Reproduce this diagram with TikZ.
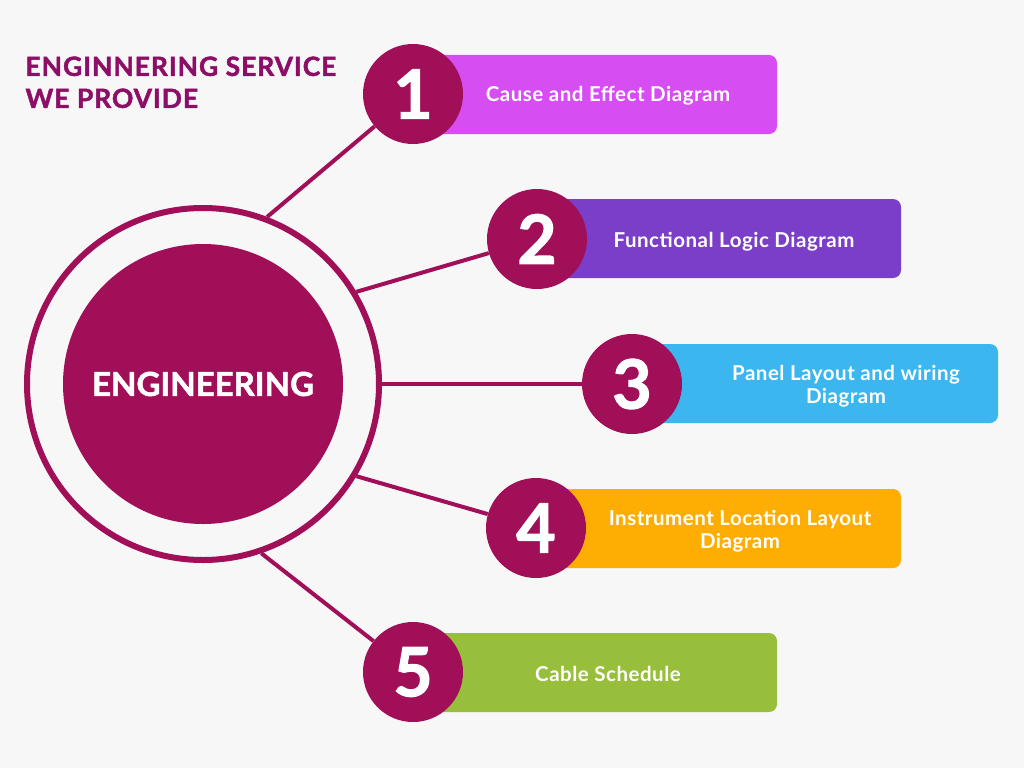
\documentclass[tikz,border=0pt]{standalone}
\usepackage{fontspec}
\setmainfont{Lato}
\newfontfamily\heavy[BoldFeatures={FakeBold=1.6}]{Lato}
\newfontfamily\heavyw[BoldFeatures={FakeBold=1.6,LetterSpace=3.5}]{Lato}
\newfontfamily\wide[BoldFeatures={LetterSpace=2.5}]{Lato}
\definecolor{bgc}{HTML}{F7F7F8}
\definecolor{crim}{HTML}{A10F58}
\definecolor{titlec}{HTML}{8C0E66}
\definecolor{cA}{HTML}{D64EF2}
\definecolor{cB}{HTML}{7A3EC8}
\definecolor{cC}{HTML}{3BB6EF}
\definecolor{cD}{HTML}{FEAE03}
\definecolor{cE}{HTML}{98BF3B}
\begin{document}
\begin{tikzpicture}[x=1pt,y=-1pt,
  numc/.style={circle,fill=crim,minimum size=100pt,inner sep=0pt,text=white,font=\heavy\fontsize{68}{68}\selectfont\bfseries},
  bar/.style={rounded corners=8pt},
  bartext/.style={text=white,font=\wide\fontsize{20.5}{23}\selectfont\bfseries,align=center},
  conn/.style={draw=crim,line width=4pt}]
\fill[bgc] (0,0) rectangle (1024,768);
\useasboundingbox (0,0) rectangle (1024,768);
% bars
\fill[cA,bar] (413,55) rectangle (777,134);
\fill[cB,bar] (537,199) rectangle (901,278);
\fill[cC,bar] (630,344) rectangle (998,423);
\fill[cD,bar] (536,489) rectangle (901,568);
\fill[cE,bar] (413,633) rectangle (777,712);
% ring and core
\node[circle,draw=crim,line width=6pt,minimum size=352pt,inner sep=0pt] (ring) at (203,384) {};
\node[circle,fill=crim,minimum size=280pt,inner sep=0pt,text=white,font=\heavy\fontsize{33}{33}\selectfont\bfseries] (core) at (203,384) {ENGINEERING};
% number circles
\node[numc] (n1) at (413,94) {1};
\node[numc] (n2) at (537,239) {2};
\node[numc] (n3) at (632,384) {3};
\node[numc] (n4) at (536,528) {4};
\node[numc] (n5) at (413,672) {5};
% connectors
\draw[conn] (ring.69) -- (n1);
\draw[conn] (ring.31) -- (n2);
\draw[conn] (ring.0) -- (n3);
\draw[conn] (ring.-31) -- (n4);
\draw[conn] (ring.-71) -- (n5);
% texts
\node[bartext] (t1) at (608,96) {Cause and Effect Diagram};
\node[bartext] (t2) at (734,242) {Functional Logic Diagram};
\node[bartext] (t3) at (846,386) {Panel Layout and wiring\\Diagram};
\node[bartext] (t4) at (740,531) {Instrument Location Layout\\Diagram};
\node[bartext] (t5) at (608,674) {Cable Schedule};
\node[anchor=north west,text=titlec,align=left,font=\heavyw\fontsize{26.5}{32}\selectfont\bfseries] (title) at (22,53) {ENGINNERING SERVICE\\WE PROVIDE};
\end{tikzpicture}
\end{document}
